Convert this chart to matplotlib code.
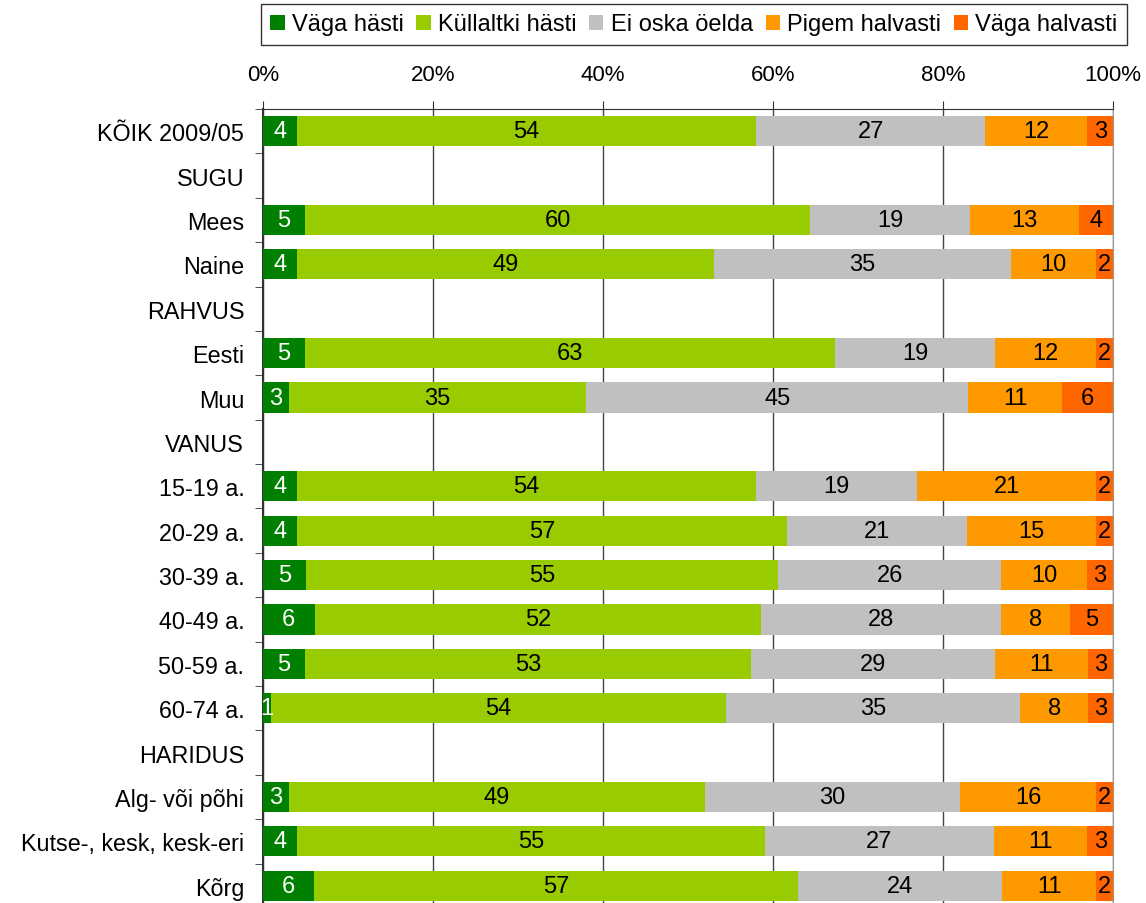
import matplotlib
matplotlib.use("Agg")
import matplotlib.pyplot as plt
import numpy as np

plt.rcParams["font.family"] = ["Liberation Sans", "DejaVu Sans"]

categories = ["KÕIK 2009/05", "SUGU", "Mees", "Naine", "RAHVUS", "Eesti", "Muu",
              "VANUS", "15-19 a.", "20-29 a.", "30-39 a.", "40-49 a.", "50-59 a.",
              "60-74 a.", "HARIDUS", "Alg- või põhi", "Kutse-, kesk, kesk-eri", "Kõrg"]
series = ["Väga hästi", "Küllaltki hästi", "Ei oska öelda", "Pigem halvasti", "Väga halvasti"]
colors = ["#008000", "#99CC00", "#C0C0C0", "#FF9900", "#FF6600"]

# None = group header row (no bar)
vaga_hasti = [4, None, 5, 4, None, 5, 3, None, 4, 4, 5, 6, 5, 1, None, 3, 4, 6]
kullaltki = [54, None, 60, 49, None, 63, 35, None, 54, 57, 55, 52, 53, 54, None, 49, 55, 57]
ei_oska = [27, None, 19, 35, None, 19, 45, None, 19, 21, 26, 28, 29, 35, None, 30, 27, 24]
pigem_halv = [12, None, 13, 10, None, 12, 11, None, 21, 15, 10, 8, 11, 8, None, 16, 11, 11]
vaga_halv = [3, None, 4, 2, None, 2, 6, None, 2, 2, 3, 5, 3, 3, None, 2, 3, 2]

data = [vaga_hasti, kullaltki, ei_oska, pigem_halv, vaga_halv]

fig = plt.figure(figsize=(11.46, 9.04), dpi=100)
ax = fig.add_axes([0.2295, -0.0055, 0.7417, 0.8838])

n = len(categories)
y = np.arange(n)
rows = [i for i in range(n) if vaga_hasti[i] is not None]
vals = np.array([[s[i] for s in data] for i in rows], dtype=float)
pct = vals / vals.sum(axis=1, keepdims=True) * 100

left = np.zeros(len(rows))
handles = []
for k, (name, col) in enumerate(zip(series, colors)):
    bars = ax.barh([y[i] for i in rows], pct[:, k], left=left, height=0.68,
                   color=col, label=name, zorder=3)
    handles.append(bars)
    txt_col = "white" if k == 0 else "black"
    for j, b in enumerate(bars):
        ax.text(left[j] + pct[j, k] / 2, y[rows[j]], f"{int(vals[j, k])}",
                ha="center", va="center", fontsize=17, color=txt_col, zorder=4)
    left += pct[:, k]

ax.set_xlim(0, 100)
ax.set_ylim(n - 0.5, -0.5)
ax.xaxis.tick_top()
ax.set_xticks([0, 20, 40, 60, 80, 100])
ax.set_xticklabels(["0%", "20%", "40%", "60%", "80%", "100%"], fontsize=16)
ax.tick_params(axis="x", direction="out", length=6, pad=11.5, color="#333333")
ax.set_yticks(y)
ax.set_yticklabels(categories, fontsize=16.8)
ax.set_yticks(np.arange(n + 1) - 0.5, minor=True)
ax.tick_params(axis="y", which="major", length=0, pad=13.5)
ax.tick_params(axis="y", which="minor", length=6, direction="out", color="#333333")
ax.grid(axis="x", color="#444444", linewidth=1, zorder=0)
ax.set_axisbelow(True)

ax.spines["bottom"].set_visible(False)
ax.spines["right"].set_color("#999999")
ax.spines["top"].set_color("#333333")
ax.spines["left"].set_color("#333333")
ax.spines["left"].set_linewidth(1.5)

fig.legend(handles=handles, loc="upper right", bbox_to_anchor=(0.9834, 0.9945),
           ncol=5, fontsize=17, frameon=True, fancybox=False, edgecolor="black",
           handlelength=0.6, handleheight=0.6, handletextpad=0.3, columnspacing=0.55,
           borderpad=0.4, borderaxespad=0)

fig.savefig("out.png", dpi=100)
